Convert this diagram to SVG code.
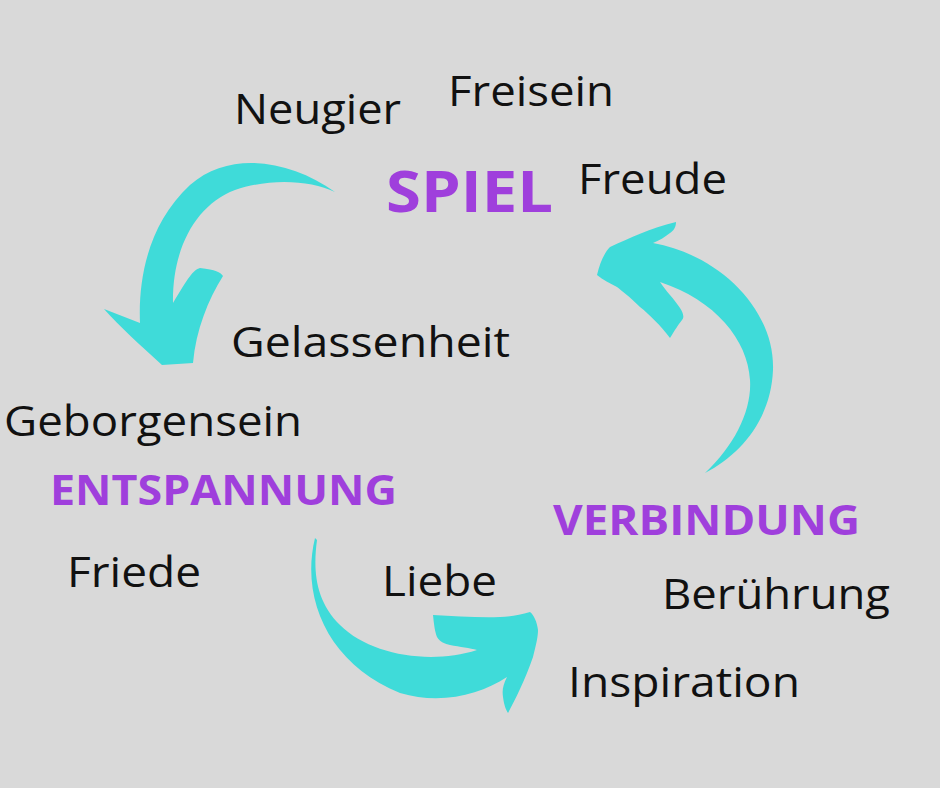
<svg xmlns="http://www.w3.org/2000/svg" width="940" height="788" viewBox="0 0 940 788">
<style>
.w{font-family:"Open Sans","Noto Sans",sans-serif;font-size:42px;fill:#111}
.h{font-family:"Open Sans","Noto Sans",sans-serif;font-weight:bold;fill:#9f3fdc}
.a{fill:#3fdbd9}
</style>
<rect width="940" height="788" fill="#d9d9d9"/>
<g id="connectors">
<path class="a" d="M335,192 C290,160 230,150 190,185 C150,222 138,275 140,323 L104,309 C120,327 140,345 162,365 L193,363 C196,330 208,300 223,276 C220,272 216,270 200,268 C193,270 188,278 173,303 C172,250 195,205 235,190 C270,178 310,180 335,192 Z"/>
<path class="a" d="M597,275 C600,262 605,252 610,247 C630,238 650,228 676,222 C676,228 673,231 670,233 C665,237 660,240 653,243 C720,255 775,310 773,370 C771,420 740,455 705,473 C735,445 752,410 750,380 C748,340 715,300 660,282 C665,290 675,300 680,308 C684,314 684,318 682,320 C678,325 675,330 670,338 C660,325 650,315 640,307 C630,297 622,291 617,287 C610,283 603,280 597,275 Z"/>
<path class="a" d="M315,538 C300,600 330,665 400,693 C440,705 480,695 507,677 C503,685 502,690 503,697 C504,705 506,710 508,713 C515,700 525,680 533,657 C536,645 538,637 538,630 C537,622 534,615 530,612 C520,615 510,617 500,617 C480,618 455,616 433,615 C434,625 435,632 437,637 C440,642 445,644 450,645 C460,647 470,648 477,650 C430,665 370,655 340,625 C315,600 313,570 317,540 Z"/>
</g>
<g id="spiel"><text class="h" x="386" y="212" font-size="58" textLength="167" lengthAdjust="spacingAndGlyphs">SPIEL</text></g>
<g id="entspannung"><text class="h" x="50" y="505" font-size="42" textLength="347" lengthAdjust="spacingAndGlyphs">ENTSPANNUNG</text></g>
<g id="verbindung"><text class="h" x="553" y="535" font-size="42" textLength="307" lengthAdjust="spacingAndGlyphs">VERBINDUNG</text></g>
<g id="neugier"><text class="w" x="234" y="124" textLength="167" lengthAdjust="spacingAndGlyphs">Neugier</text></g>
<g id="freisein"><text class="w" x="448" y="106" textLength="166" lengthAdjust="spacingAndGlyphs">Freisein</text></g>
<g id="freude"><text class="w" x="578" y="194" textLength="149" lengthAdjust="spacingAndGlyphs">Freude</text></g>
<g id="gelassenheit"><text class="w" x="231" y="357" textLength="279" lengthAdjust="spacingAndGlyphs">Gelassenheit</text></g>
<g id="geborgensein"><text class="w" x="4" y="436" textLength="298" lengthAdjust="spacingAndGlyphs">Geborgensein</text></g>
<g id="friede"><text class="w" x="67" y="587" textLength="134" lengthAdjust="spacingAndGlyphs">Friede</text></g>
<g id="liebe"><text class="w" x="382" y="596" textLength="115" lengthAdjust="spacingAndGlyphs">Liebe</text></g>
<g id="beruehrung"><text class="w" x="662" y="609" textLength="228" lengthAdjust="spacingAndGlyphs">Berührung</text></g>
<g id="inspiration"><text class="w" x="568" y="697" textLength="232" lengthAdjust="spacingAndGlyphs">Inspiration</text></g>
</svg>
